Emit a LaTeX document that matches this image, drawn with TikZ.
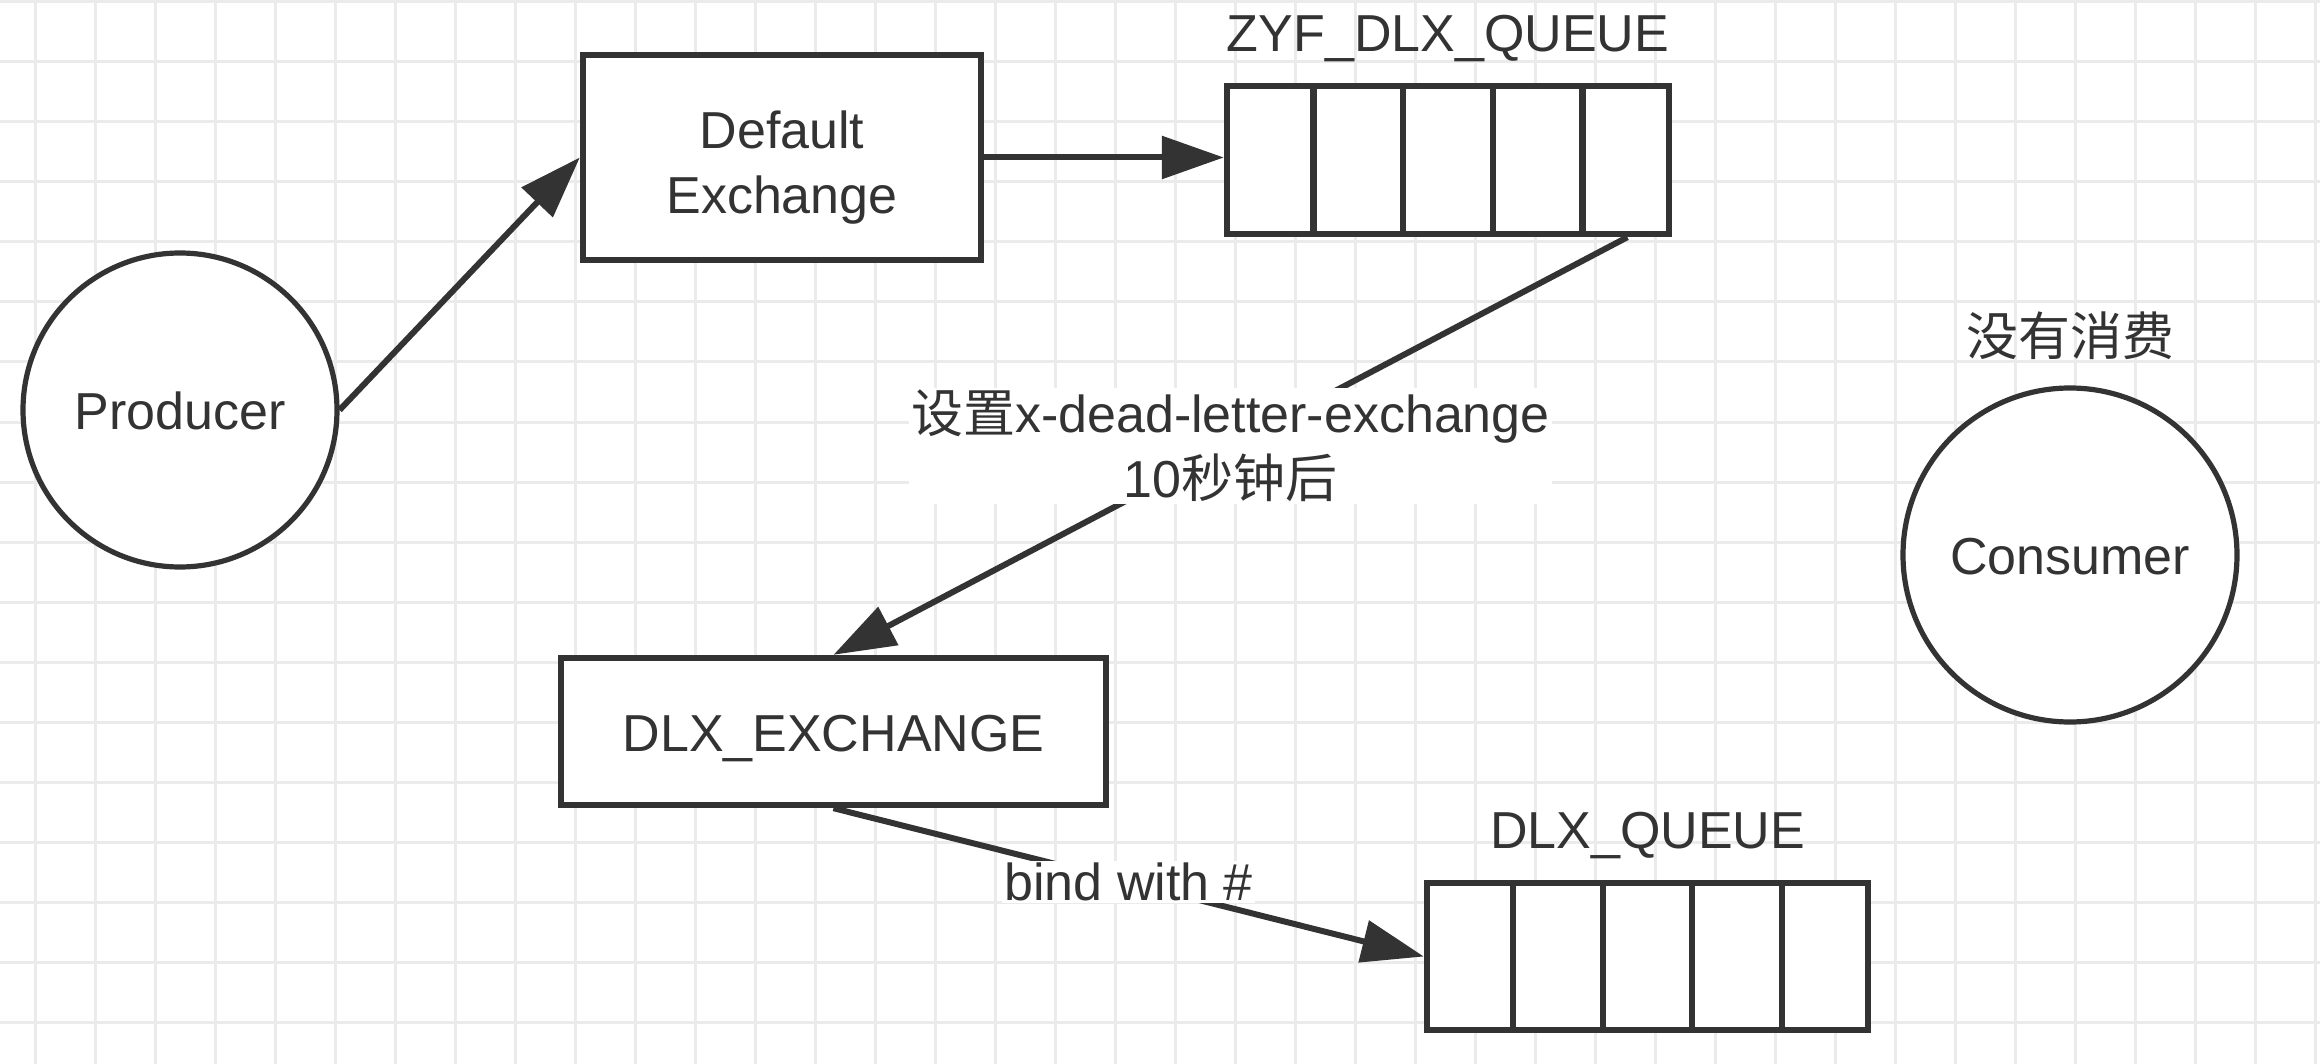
\documentclass[tikz,border=0pt]{standalone}
\usepackage{fontspec}
\setmainfont{Liberation Sans}
\newfontfamily\cjk{Noto Sans CJK SC}
\usetikzlibrary{arrows.meta,calc}
\definecolor{ink}{HTML}{333333}
\definecolor{gridc}{HTML}{EBEBEB}
\begin{document}
\begin{tikzpicture}[x=0.5pt,y=-0.5pt,
  every node/.style={font=\fontsize{26}{32.5}\selectfont, text=ink},
  box/.style={draw=ink, line width=3.2pt, fill=white, align=center, inner sep=0pt},
  oneline/.style={text height=25pt, text depth=5.5pt},
  circ/.style={circle, draw=ink, line width=2.6pt, fill=white, inner sep=0pt},
  qcell/.style={draw=ink, line width=3.2pt},
  conn/.style={draw=ink, line width=3pt, -{Triangle[length=31pt,width=21pt]}},
  lbl/.style={fill=white, inner xsep=1pt, inner ysep=1pt, align=center}]
\useasboundingbox (0,0) rectangle (2320,1064);
\fill[white] (0,0) rectangle (2320,1064);
\foreach \x in {35,95,...,2315} \draw[gridc, line width=1.5pt] (\x,0) -- (\x,1064);
\foreach \y in {2,62,...,1064} \draw[gridc, line width=1.5pt] (0,\y) -- (2320,\y);

% nodes
\node[circ, oneline, minimum size=157pt] (prod) at (180,410) {Producer};
\node[box, minimum width=199pt, minimum height=102.5pt] (defx) at (782,157.5)
  {\raisebox{-11.3pt}[0pt][0pt]{\begin{tabular}{@{}c@{}}Default\\Exchange\end{tabular}}};
\node[box, minimum width=221pt, minimum height=74pt] (zyf) at (1448,160) {};
\foreach \i in {1,...,4}
  \draw[qcell] ($(zyf.north west)!\i/5!(zyf.north east)$) -- ($(zyf.south west)!\i/5!(zyf.south east)$);
\node[anchor=base, inner sep=0pt] (zyflabel) at (1448,52) {ZYF\_DLX\_QUEUE};

\node[box, oneline, minimum width=272.5pt, minimum height=73.5pt] (dlxx) at (833.5,731.5) {DLX\_EXCHANGE};
\node[box, minimum width=220.5pt, minimum height=73.5pt] (dlxq) at (1647.5,956.5) {};
\foreach \i in {1,...,4}
  \draw[qcell] ($(dlxq.north west)!\i/5!(dlxq.north east)$) -- ($(dlxq.south west)!\i/5!(dlxq.south east)$);
\node[anchor=base, inner sep=0pt] (dlxqlabel) at (1647.5,848) {DLX\_QUEUE};

\node[circ, oneline, minimum size=167pt] (cons) at (2070,555) {Consumer};
\node[inner sep=0pt] (nocons) at (2070,336) {\cjk 没有消费};

% connectors
\draw[conn] (prod.east) -- (defx.west);
\draw[conn] (defx.east) -- (defx.east -| zyf.west);
\coordinate (zyfout) at ($(zyf.south west)!0.9!(zyf.south east)$);
\draw[conn] (zyfout) -- node[lbl] (dlxlabel) {{\cjk 设置}x-dead-letter-exchange\\10{\cjk 秒钟后}} (dlxx.north);
\draw[conn] (dlxx.south) -- node[lbl] (bindlabel) {bind with \#} (dlxq.west);
\end{tikzpicture}
\end{document}
